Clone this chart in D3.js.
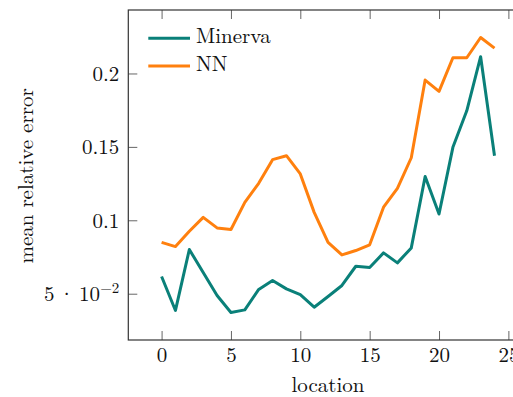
<!DOCTYPE html>
<html>
<head>
<meta charset="utf-8">
<script src="https://cdn.jsdelivr.net/npm/d3@7"></script>
<style>
  html, body { margin: 0; padding: 0; background: #fff; }
  svg { display: block; }
</style>
</head>
<body>
<svg id="chart" width="513" height="397"></svg>
<script>
const locations = [0,1,2,3,4,5,6,7,8,9,10,11,12,13,14,15,16,17,18,19,20,21,22,23,24];
const minerva = [0.0617,0.0386,0.0801,0.0644,0.0488,0.0372,0.0390,0.0529,0.0590,0.0533,0.0493,0.0408,0.0481,0.0556,0.0687,0.0678,0.0778,0.0710,0.0812,0.1298,0.1043,0.1497,0.1746,0.2114,0.1440];
const nn = [0.0850,0.0821,0.0925,0.1020,0.0948,0.0937,0.1122,0.1252,0.1413,0.1440,0.1316,0.1054,0.0850,0.0764,0.0794,0.0833,0.1089,0.1218,0.1426,0.1955,0.1878,0.2107,0.2107,0.2245,0.2173];
const seriesNames = ["Minerva", "NN"];
const seriesColors = ["#0a8079", "#ff800e"];
const xTicks = [0,5,10,15,20,25];
const yTicks = [0.05,0.1,0.15,0.2];
const xLabel = "location";
const yLabel = "mean relative error";

(function() {
const FONT = '"Latin Modern Roman", "CMU Serif", "Liberation Serif", serif';
const FS = 21;
const svg = d3.select("#chart");
const pL = 128.3, pR = 527.8, pT = 10, pB = 340;

// pgfplots-style 10% enlargement of data limits
function enlarged(ext) { const r = ext[1] - ext[0]; return [ext[0] - 0.1 * r, ext[1] + 0.1 * r]; }
const xDom = enlarged(d3.extent(locations));
const yDom = enlarged(d3.extent(minerva.concat(nn)));

const x = d3.scaleLinear().domain(xDom).range([pL, pR]);
const y = d3.scaleLinear().domain(yDom).range([pB, pT]);

const tickLen = 9;

const gB = svg.append("g").attr("transform", `translate(0,${pB})`)
  .call(d3.axisBottom(x).tickValues(xTicks).tickSizeInner(-tickLen).tickSizeOuter(0).tickFormat(d3.format("d")));
const gT = svg.append("g").attr("transform", `translate(0,${pT})`)
  .call(d3.axisTop(x).tickValues(xTicks).tickSizeInner(-tickLen).tickSizeOuter(0).tickFormat(""));
const gL = svg.append("g").attr("transform", `translate(${pL},0)`)
  .call(d3.axisLeft(y).tickValues(yTicks).tickSizeInner(-tickLen).tickSizeOuter(0).tickFormat(""));
const gR = svg.append("g").attr("transform", `translate(${pR},0)`)
  .call(d3.axisRight(y).tickValues(yTicks).tickSizeInner(-tickLen).tickSizeOuter(0).tickFormat(""));

[gB, gT, gL, gR].forEach(g => {
  g.select(".domain").remove();
  g.selectAll(".tick line").attr("stroke", "#666").attr("stroke-width", 1);
});
gB.selectAll(".tick text")
  .style("font-family", FONT).style("font-size", FS + "px").attr("fill", "#111")
  .attr("y", 22).attr("dy", null);

gL.selectAll(".tick").each(function(d) {
  const t = d3.select(this).append("text")
    .attr("x", -9).attr("y", 7)
    .attr("text-anchor", "end").attr("fill", "#111")
    .style("font-family", FONT).style("font-size", FS + "px");
  if (d === 0.05) {
    t.append("tspan").text("5\u2009\u00B7\u200910");
    t.append("tspan").style("font-size", "15px").attr("dy", "-8").text("\u22122");
  } else {
    t.text(String(d));
  }
});

svg.append("rect").attr("x", pL).attr("y", pT)
  .attr("width", pR - pL).attr("height", pB - pT)
  .attr("fill", "none").attr("stroke", "#333").attr("stroke-width", 1.2);

const line = d3.line().x((d, i) => x(locations[i])).y(d => y(d));
[minerva, nn].forEach((s, k) => {
  svg.append("path").datum(s)
    .attr("fill", "none").attr("stroke", seriesColors[k])
    .attr("stroke-width", 3).attr("stroke-linejoin", "round")
    .attr("d", line);
});

const legY = [38.3, 66];
seriesNames.forEach((name, k) => {
  svg.append("line").attr("x1", 148.3).attr("x2", 190).attr("y1", legY[k]).attr("y2", legY[k])
    .attr("stroke", seriesColors[k]).attr("stroke-width", 3);
  svg.append("text").attr("x", 196).attr("y", legY[k] + 5)
    .attr("fill", "#111")
    .style("font-family", FONT).style("font-size", FS + "px").text(name);
});

svg.append("text").attr("x", 328).attr("y", 392)
  .attr("text-anchor", "middle").attr("fill", "#111")
  .style("font-family", FONT).style("font-size", FS + "px").text(xLabel);
svg.append("text").attr("transform", "translate(33,176) rotate(-90)")
  .attr("text-anchor", "middle").attr("fill", "#111")
  .style("font-family", FONT).style("font-size", FS + "px").text(yLabel);
})();
</script>
</body>
</html>
